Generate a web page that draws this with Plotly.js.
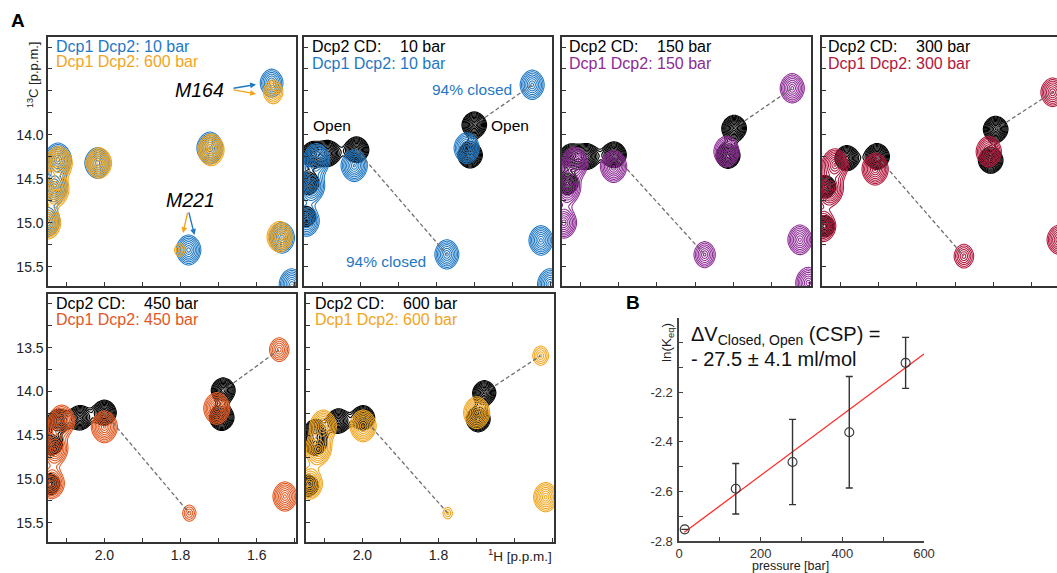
<!DOCTYPE html>
<html>
<head>
<meta charset="utf-8">
<script src="https://cdn.plot.ly/plotly-3.0.1.min.js"></script>
<style>
html,body{margin:0;padding:0;overflow:hidden;background:#fff;width:1057px;height:573px;}
#plot{width:1075px;height:573px;}
</style>
</head>
<body>
<div id="plot"></div>
<script>
// ---------------- DATA ----------------
// Panel 1: Dcp1 Dcp2 at 10 bar (blue) and 600 bar (amber)  [1H ppm, 13C ppm, relative intensity]
const p1_c1_x = [1.561, 1.723, 2.018, 2.122, 2.132, 2.150, 1.779, 1.534, 1.508];
const p1_c1_y = [13.41, 14.15, 14.32, 14.28, 14.60, 14.98, 15.31, 15.17, 15.70];
const p1_c1_a = [0.7, 1.0, 0.9, 1.1, 1.0, 0.9, 0.85, 0.9, 0.9];
const p1_c2_x = [1.557, 1.720, 2.014, 2.120, 2.128, 2.148, 1.802, 1.540];
const p1_c2_y = [13.51, 14.17, 14.32, 14.32, 14.63, 15.01, 15.31, 15.16];
const p1_c2_a = [0.5, 1.0, 0.9, 1.1, 1.0, 0.9, 0.22, 0.9];

// Panel 2: Dcp2 CD 10 bar (black) / Dcp1 Dcp2 10 bar (blue)
const p2_ref_x = [1.701, 1.712, 2.010, 2.084, 2.125, 2.137, 2.142];
const p2_ref_y = [13.886, 14.23, 14.17, 14.21, 14.22, 14.55, 14.93];
const p2_ref_a = [1.3, 1.3, 1.3, 1.2, 1.1, 0.9, 0.7];
const p2_cpx_x = [1.549, 1.721, 2.016, 2.115, 2.128, 2.141, 1.773, 1.526, 1.502];
const p2_cpx_y = [13.43, 14.15, 14.35, 14.28, 14.59, 14.98, 15.36, 15.20, 15.70];
const p2_cpx_a = [0.8, 0.9, 1.0, 1.0, 0.95, 0.9, 0.8, 0.8, 0.9];

// Panel 3: 150 bar (purple)
const p3_ref_x = [1.698, 1.714, 2.012, 2.082, 2.125, 2.134];
const p3_ref_y = [13.924, 14.238, 14.227, 14.246, 14.24, 14.55];
const p3_ref_a = [1.3, 1.2, 1.3, 1.2, 1.0, 0.9];
const p3_cpx_x = [1.546, 1.718, 2.013, 2.115, 2.134, 2.143, 1.775, 1.526, 1.504];
const p3_cpx_y = [13.469, 14.189, 14.36, 14.32, 14.61, 15.00, 15.363, 15.193, 15.685];
const p3_cpx_a = [0.8, 0.9, 1.0, 1.0, 0.95, 0.9, 0.6, 0.8, 0.9];

// Panel 4: 300 bar (crimson)
const p4_ref_x = [1.694, 1.707, 2.004, 2.083, 2.140, 2.141];
const p4_ref_y = [13.935, 14.29, 14.246, 14.265, 14.59, 15.04];
const p4_ref_a = [1.3, 1.3, 1.3, 1.2, 0.9, 0.8];
const p4_cpx_x = [1.545, 1.712, 2.009, 2.114, 2.127, 2.145, 1.777, 1.528];
const p4_cpx_y = [13.515, 14.19, 14.39, 14.34, 14.625, 15.04, 15.38, 15.193];
const p4_cpx_a = [0.75, 0.9, 1.0, 1.0, 0.95, 0.9, 0.5, 0.8];

// Panel 5: 450 bar (orange-red)
const p5_ref_x = [1.688, 1.692, 2.000, 2.064, 2.121, 2.138, 2.143];
const p5_ref_y = [13.988, 14.298, 14.242, 14.30, 14.337, 14.60, 15.06];
const p5_ref_a = [1.2, 1.3, 1.2, 1.1, 1.0, 0.9, 0.8];
const p5_cpx_x = [1.541, 1.705, 2.000, 2.112, 2.130, 2.138, 1.777, 1.526];
const p5_cpx_y = [13.522, 14.193, 14.405, 14.337, 14.66, 15.05, 15.39, 15.20];
const p5_cpx_a = [0.5, 1.0, 1.0, 1.0, 0.95, 0.9, 0.28, 0.8];

// Panel 6: 600 bar (amber)
const p6_ref_x = [1.680, 1.696, 1.998, 2.063, 2.124, 2.124, 2.142];
const p6_ref_y = [14.015, 14.318, 14.30, 14.337, 14.45, 14.60, 15.076];
const p6_ref_a = [1.1, 1.2, 1.1, 1.1, 0.9, 0.9, 0.8];
const p6_cpx_x = [1.532, 1.700, 1.998, 2.103, 2.116, 2.138, 1.776, 1.519];
const p6_cpx_y = [13.59, 14.242, 14.394, 14.394, 14.66, 15.056, 15.39, 15.207];
const p6_cpx_a = [0.35, 1.0, 1.0, 1.0, 0.95, 0.9, 0.2, 0.8];

// open (reference peak index) -> closed (complex peak index) connectors
const linkRef = [0, 2];
const linkCpx = [0, 6];

// Tick values / labels for spectra
const hTicks = [2.1, 2.0, 1.9, 1.8, 1.7, 1.6, 1.5];
const hLabels = ['', '2.0', '', '1.8', '', '1.6', ''];
const hLabelsLast = ['', '2.0', '', '1.8', '', '', ''];
const cTicks = [13.0, 13.25, 13.5, 13.75, 14.0, 14.25, 14.5, 14.75, 15.0, 15.25, 15.5, 15.75];
const cLabelsTop = ['', '', '', '', '14.0', '', '14.5', '', '15.0', '', '15.5', ''];
const cLabelsBot = ['', '', '13.5', '', '14.0', '', '14.5', '', '15.0', '', '15.5', ''];

// Panel B data
const pressure = [14, 139, 278, 417, 555];
const lnKeq = [-2.753, -2.589, -2.481, -2.361, -2.081];
const lnKeqErr = [0.0, 0.102, 0.172, 0.225, 0.103];
const fitPressure = [13, 600];
const fitLnKeq = [-2.765, -2.045];
const pTicks = [0, 100, 200, 300, 400, 500, 600];
const pLabels = ['0', '', '200', '', '400', '', '600'];
const kTicks = [-2.8, -2.7, -2.6, -2.5, -2.4, -2.3, -2.2, -2.1, -2.0, -1.9];
const kLabels = ['-2.8', '', '-2.6', '', '-2.4', '', '-2.2', '', '', ''];

// ---------------- STYLE / LAYOUT ----------------
const W = 1075, H = 573;
const FONT = 'Liberation Sans, Arial, Helvetica, sans-serif';
const BLACK = '#000000';
const COL = {blue: '#1f78c4', amber: '#f1a51d', purple: '#8d2b95', crimson: '#b1173c', orange: '#e2571f'};

const X_RANGE = [2.148, 1.497];
const Y_RANGE = [15.72, 12.886];

// grid for spectra
const gx = [], gy = [];
for (let v = 1.46; v <= 2.18; v += 0.002) gx.push(+v.toFixed(4));
for (let v = 12.84; v <= 15.78; v += 0.009) gy.push(+v.toFixed(4));

const SHAPE_P = 1.85, SHAPE_C = 0.2;
function spectrum(px, py, pa, wx, wy) {
  const P = SHAPE_P, cut = Math.pow(7, P);
  const fx = px.map(x0 => gx.map(x => Math.pow(Math.abs((x - x0) / wx), P)));
  const fy = py.map(y0 => gy.map(y => Math.pow(Math.abs((y - y0) / wy), P)));
  const z = [];
  for (let j = 0; j < gy.length; j++) {
    const row = new Array(gx.length);
    for (let i = 0; i < gx.length; i++) {
      let s = 1e-5;
      for (let k = 0; k < px.length; k++) {
        const q = fx[k][i] + fy[k][j];
        if (q < cut) { const r = Math.pow(q, 1 / P); s += pa[k] * Math.exp(-(r + SHAPE_C * r * r)); }
      }
      row[i] = Math.log(s);
    }
    z.push(row);
  }
  return z;
}

function contourTrace(px, py, pa, color, ax, isRef) {
  return {
    type: 'contour', x: gx, y: gy,
    z: isRef ? spectrum(px, py, pa, 0.0188, 0.086) : spectrum(px, py, pa, 0.0200, 0.106),
    xaxis: 'x' + ax, yaxis: 'y' + ax,
    autocontour: false,
    contours: isRef ? {coloring: 'lines', start: Math.log(0.13), end: 1, size: 0.22, showlabels: false}
                    : {coloring: 'lines', start: Math.log(0.1), end: 1, size: 0.27, showlabels: false},
    line: {width: isRef ? 1.15 : 1.05, smoothing: 1},
    colorscale: [[0, color], [1, color]],
    showscale: false, hoverinfo: 'skip'
  };
}

function linkTraces(rx, ry, cx, cy, ax) {
  const out = [];
  for (let k = 0; k < linkRef.length; k++) {
    out.push({
      type: 'scatter', mode: 'lines',
      x: [rx[linkRef[k]], cx[linkCpx[k]]], y: [ry[linkRef[k]], cy[linkCpx[k]]],
      xaxis: 'x' + ax, yaxis: 'y' + ax,
      line: {color: '#707070', width: 1.3, dash: '4px,2.5px'}, hoverinfo: 'skip', showlegend: false
    });
  }
  return out;
}

const traces = [];
// panel 1
traces.push(contourTrace(p1_c1_x, p1_c1_y, p1_c1_a, COL.blue, 1, false));
traces.push(contourTrace(p1_c2_x, p1_c2_y, p1_c2_a, COL.amber, 1, false));
// panels 2-6
const panels = [
  [p2_ref_x, p2_ref_y, p2_ref_a, p2_cpx_x, p2_cpx_y, p2_cpx_a, COL.blue],
  [p3_ref_x, p3_ref_y, p3_ref_a, p3_cpx_x, p3_cpx_y, p3_cpx_a, COL.purple],
  [p4_ref_x, p4_ref_y, p4_ref_a, p4_cpx_x, p4_cpx_y, p4_cpx_a, COL.crimson],
  [p5_ref_x, p5_ref_y, p5_ref_a, p5_cpx_x, p5_cpx_y, p5_cpx_a, COL.orange],
  [p6_ref_x, p6_ref_y, p6_ref_a, p6_cpx_x, p6_cpx_y, p6_cpx_a, COL.amber]
];
panels.forEach((p, idx) => {
  const ax = idx + 2;
  traces.push(contourTrace(p[0], p[1], p[2], BLACK, ax, true));
  traces.push(contourTrace(p[3], p[4], p[5], p[6], ax, false));
  linkTraces(p[0], p[1], p[3], p[4], ax).forEach(t => traces.push(t));
});

// panel B
traces.push({type: 'scatter', mode: 'lines', x: fitPressure, y: fitLnKeq, xaxis: 'x7', yaxis: 'y7',
  line: {color: '#ff2a2a', width: 1.3}, hoverinfo: 'skip'});
traces.push({type: 'scatter', mode: 'markers', x: pressure, y: lnKeq, xaxis: 'x7', yaxis: 'y7',
  marker: {symbol: 'circle-open', size: 9, color: '#333', line: {width: 1.1, color: '#333'}},
  error_y: {type: 'data', array: lnKeqErr, visible: true, color: '#333', thickness: 1.4, width: 3.5},
  hoverinfo: 'skip'});

// panel pixel boxes [left, right, top, bottom]
const box = {
  1: [48, 296, 37, 286], 2: [304, 552, 37, 286], 3: [562, 811, 37, 286], 4: [822, 1071, 37, 286],
  5: [48, 296, 294, 542], 6: [306, 554, 294, 542], 7: [679, 924, 318, 541]
};
const xd = b => [b[0] / W, b[1] / W];
const yd = b => [1 - b[3] / H, 1 - b[2] / H];

const layout = {
  width: W, height: H, margin: {l: 0, r: 0, t: 0, b: 0},
  paper_bgcolor: '#fff', plot_bgcolor: 'rgba(0,0,0,0)', showlegend: false,
  font: {family: FONT, color: '#222'},
  annotations: [], shapes: []
};

function specAxes(n, xl, yl) {
  const b = box[n];
  layout['xaxis' + (n === 1 ? '' : n)] = {
    domain: xd(b), anchor: n === 1 ? 'y' : 'y' + n, range: X_RANGE, autorange: false,
    tickmode: 'array', tickvals: hTicks, ticktext: xl, ticks: 'inside', ticklen: 4, tickwidth: 1, tickcolor: '#333',
    showline: true, mirror: true, linecolor: '#333', linewidth: 1.6, showgrid: false, zeroline: false,
    tickfont: {size: 14, family: FONT, color: '#222'}, fixedrange: true
  };
  layout['yaxis' + (n === 1 ? '' : n)] = {
    domain: yd(b), anchor: n === 1 ? 'x' : 'x' + n, range: Y_RANGE, autorange: false,
    tickmode: 'array', tickvals: cTicks, ticktext: yl, ticks: 'inside', ticklen: 4, tickwidth: 1, tickcolor: '#333',
    showline: true, mirror: true, linecolor: '#333', linewidth: 1.6, showgrid: false, zeroline: false,
    tickfont: {size: 14, family: FONT, color: '#222'}, fixedrange: true
  };
}
const noX = hTicks.map(() => ''), noY = cTicks.map(() => '');
specAxes(1, noX, cLabelsTop);
specAxes(2, noX, noY);
specAxes(3, noX, noY);
specAxes(4, noX, noY);
specAxes(5, hLabels, cLabelsBot);
specAxes(6, hLabelsLast, noY);

layout.xaxis7 = {
  domain: xd(box[7]), anchor: 'y7', range: [0, 600], autorange: false,
  tickmode: 'array', tickvals: pTicks, ticktext: pLabels, ticks: 'inside', ticklen: 4, tickwidth: 1.2, tickcolor: '#444',
  showline: true, linecolor: '#444', linewidth: 1.6, showgrid: false, zeroline: false,
  tickfont: {size: 13, family: FONT, color: '#333'}, fixedrange: true, ticklabelstandoff: 0
};
layout.yaxis7 = {
  domain: yd(box[7]), anchor: 'x7', range: [-2.8, -1.9], autorange: false,
  tickmode: 'array', tickvals: kTicks, ticktext: kLabels, ticks: 'inside', ticklen: 4, tickwidth: 1.2, tickcolor: '#444',
  showline: true, linecolor: '#444', linewidth: 1.6, showgrid: false, zeroline: false,
  tickfont: {size: 13, family: FONT, color: '#333'}, fixedrange: true, ticklabelstandoff: 2
};

// annotation helpers (pixel positions -> paper)
function txt(px, py, text, opt) {
  opt = opt || {};
  layout.annotations.push({
    xref: 'paper', yref: 'paper', x: px / W, y: 1 - py / H, text: text, showarrow: false,
    xanchor: opt.xa || 'left', yanchor: 'middle', textangle: opt.angle || 0,
    font: {family: FONT, size: opt.size || 16, color: opt.color || BLACK}
  });
}
function arrow(hx, hy, tx, ty, color) {
  layout.annotations.push({
    xref: 'paper', yref: 'paper', x: hx / W, y: 1 - hy / H, ax: tx - hx, ay: ty - hy,
    axref: 'pixel', ayref: 'pixel', text: '', showarrow: true,
    arrowhead: 2, arrowsize: 0.9, arrowwidth: 1.3, arrowcolor: color, standoff: 0, startstandoff: 0
  });
}

// panel labels
txt(18, 20, '<b>A</b>', {xa: 'center', size: 19});
txt(633, 303, '<b>B</b>', {xa: 'center', size: 19});

// Panel 1
txt(54, 46, 'Dcp1 Dcp2: 10 bar', {color: COL.blue});
txt(54, 62, 'Dcp1 Dcp2: 600 bar', {color: COL.amber});
txt(199, 90, '<i>M164</i>', {xa: 'center', size: 19.5});
txt(190, 200, '<i>M221</i>', {xa: 'center', size: 19.5});
arrow(256, 84.5, 232, 88.5, COL.blue);
arrow(256, 94, 232, 89.5, COL.amber);
arrow(194.5, 235, 188.5, 211, COL.blue);
arrow(183, 233, 188, 211, COL.amber);
txt(33, 75, '<sup>13</sup>C [p.p.m.]', {xa: 'center', size: 13, angle: -90, color: '#222'});

// Panels 2-6 headers
const heads = [
  [310, 46.5, 63, '10 bar', COL.blue],
  [567, 46.5, 63, '150 bar', COL.purple],
  [826, 46.5, 63, '300 bar', COL.crimson],
  [54, 303.5, 319, '450 bar', COL.orange],
  [313, 303.5, 319, '600 bar', COL.amber]
];
heads.forEach(h => {
  txt(h[0], h[1], 'Dcp2 CD:');
  txt(h[0] + 88, h[1], h[3]);
  txt(h[0], h[2], 'Dcp1 Dcp2: ' + h[3], {color: h[4]});
});

// Panel 2 labels
txt(331.5, 125, 'Open', {xa: 'center', size: 15.5});
txt(510, 125, 'Open', {xa: 'center', size: 15.5});
txt(472, 89.5, '94% closed', {xa: 'center', size: 15.5, color: COL.blue});
txt(386, 261, '94% closed', {xa: 'center', size: 15.5, color: COL.blue});

// 1H axis title
txt(520, 555, '<sup>1</sup>H [p.p.m.]', {xa: 'center', size: 13.5, color: '#222'});

// Panel B texts
txt(689, 335, '\u0394V<sub>Closed, Open</sub> (CSP) =', {size: 20, color: '#111'});
txt(689, 359, '- 27.5 \u00b1 4.1 ml/mol', {size: 20, color: '#111'});
txt(668, 343, 'ln(K<sub>eq</sub>)', {xa: 'center', size: 13.5, angle: -90, color: '#222'});
txt(790, 566, 'pressure [bar]', {xa: 'center', size: 12.5, color: '#222'});

Plotly.newPlot('plot', traces, layout, {staticPlot: true, displayModeBar: false});
</script>
</body>
</html>
